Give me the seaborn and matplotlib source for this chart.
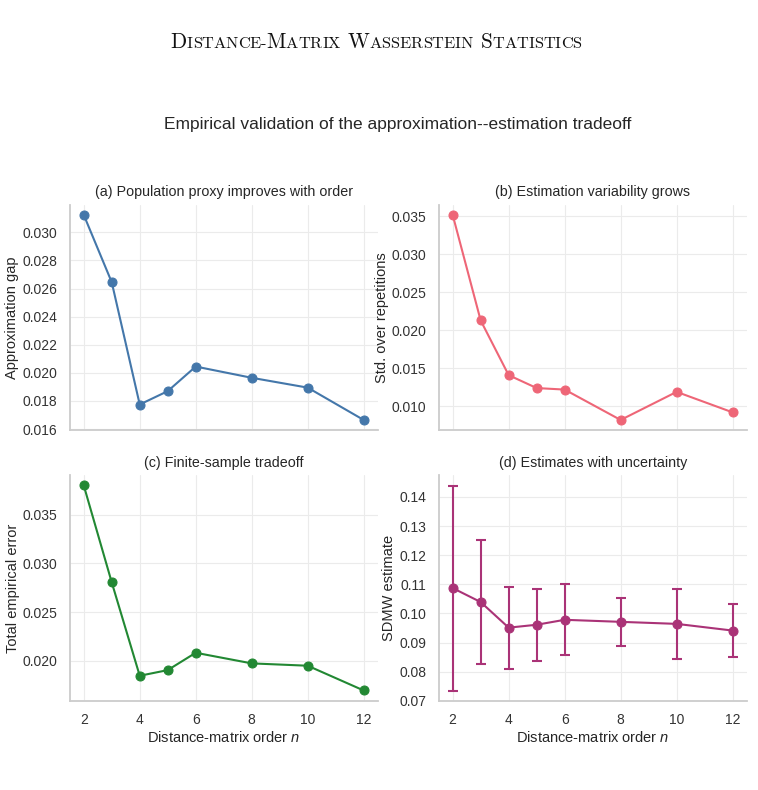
import numpy as np
import matplotlib
matplotlib.use("Agg")
import matplotlib.pyplot as plt
from matplotlib.offsetbox import TextArea, HPacker, AnchoredOffsetbox
import seaborn as sns

# Valeurs
orders = [2, 3, 4, 5, 6, 8, 10, 12]
approx_gap = [0.03124, 0.02645, 0.01775, 0.01870, 0.02045, 0.01965, 0.01895, 0.01665]
std_reps = [0.0352, 0.0213, 0.0141, 0.0124, 0.0122, 0.0082, 0.0119, 0.0092]
total_error = [0.03800, 0.02805, 0.01846, 0.01904, 0.02082, 0.01973, 0.01949, 0.01695]
sdmw_est = [0.1087, 0.1039, 0.0951, 0.0961, 0.0978, 0.0971, 0.0964, 0.0941]

header_words = ["Distance-Matrix", "Wasserstein", "Statistics"]
suptitle = "Empirical validation of the approximation--estimation tradeoff"
panel_titles = ["(a) Population proxy improves with order",
                "(b) Estimation variability grows",
                "(c) Finite-sample tradeoff",
                "(d) Estimates with uncertainty"]
ylabels = ["Approximation gap", "Std. over repetitions",
           "Total empirical error", "SDMW estimate"]
xlabel = "Distance-matrix order $n$"
colors = ["#4477AA", "#EE6677", "#228833", "#AA3377"]

sns.set_theme(style="whitegrid")
plt.rcParams["font.family"] = ["Liberation Sans", "DejaVu Sans"]
plt.rcParams["mathtext.fontset"] = "custom"
plt.rcParams["mathtext.it"] = "Liberation Sans:italic"
plt.rcParams["mathtext.rm"] = "Liberation Sans"

fig, axes = plt.subplots(2, 2, figsize=(7.58, 7.9), dpi=100, sharex=True)
fig.subplots_adjust(left=0.092, right=0.985, bottom=0.113, top=0.741,
                    wspace=0.198, hspace=0.199)

series = [approx_gap, std_reps, total_error, sdmw_est]
yticks = [np.arange(0.016, 0.0305, 0.002), np.arange(0.010, 0.0355, 0.005),
          np.arange(0.020, 0.0355, 0.005), np.arange(0.07, 0.145, 0.01)]

for i, ax in enumerate(axes.flat):
    sns.lineplot(x=orders, y=series[i], ax=ax, color=colors[i], marker="o",
                 markersize=6.5, markeredgecolor=colors[i], linewidth=1.5)
    if i == 3:
        # barres d'erreur = écart-type sur les répétitions
        ax.errorbar(orders, sdmw_est, yerr=std_reps, fmt="none",
                    ecolor=colors[i], elinewidth=1.5, capsize=3.7, capthick=1.5)
    ax.set_title(panel_titles[i], fontsize=10.3, color="#262626", pad=6)
    ax.set_ylabel(ylabels[i], fontsize=10.5, color="#262626", labelpad=2)
    ax.set_yticks(yticks[i])
    ax.set_xticks([2, 4, 6, 8, 10, 12])
    ax.tick_params(labelsize=10, colors="#333333", pad=3)
    ax.grid(color="#ebebeb", linewidth=0.8)
    for side in ["top", "right"]:
        ax.spines[side].set_visible(False)
    for side in ["left", "bottom"]:
        ax.spines[side].set_color("#cccccc")
        ax.spines[side].set_linewidth(1.3)
    if i >= 2:
        ax.set_xlabel(xlabel, fontsize=10.5, color="#262626", labelpad=2)

axes[1, 1].set_ylim(0.07, 0.1475)
axes[0, 0].set_xlim(1.5, 12.5)

fig.text(0.524, 0.843, suptitle, ha="center", va="center", fontsize=12.5, color="#262626")

# en-tête de page en petites capitales
runs = []
for k, word in enumerate(header_words):
    if k > 0:
        runs.append((" ", 15.3))
    for ch in word:
        if ch.isupper():
            runs.append((ch, 15.3))
        else:
            runs.append((ch.upper(), 11.8))
boxes = [TextArea(t, textprops=dict(fontsize=s, family="cmr10", color="#111111"))
         for t, s in runs]
packer = HPacker(children=boxes, align="baseline", pad=0, sep=0)
anch = AnchoredOffsetbox(loc="center", child=packer, pad=0, borderpad=0, frameon=False,
                         bbox_to_anchor=(0.496, 0.947), bbox_transform=fig.transFigure)
fig.add_artist(anch)

fig.savefig("out.png", dpi=100)
